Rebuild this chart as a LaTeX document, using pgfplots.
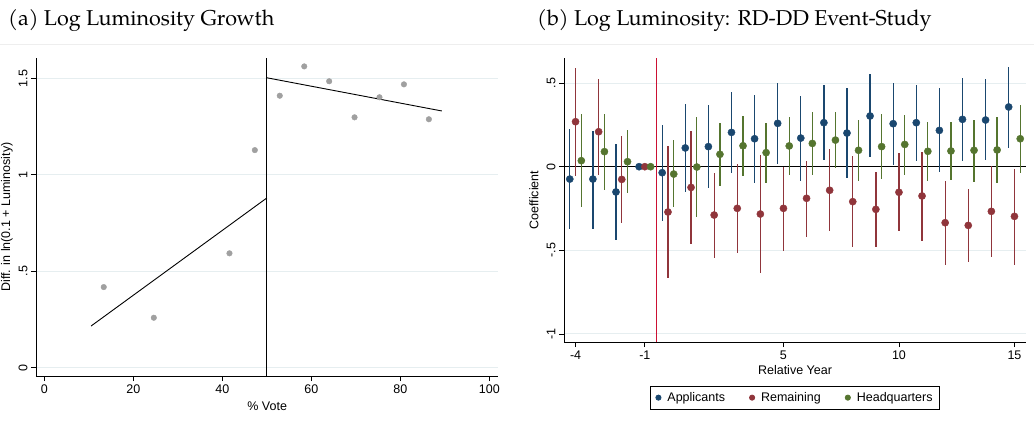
\documentclass[border=0pt]{standalone}
\usepackage{fontspec}
\setmainfont{Liberation Sans}
\newfontfamily\titlefont{TeX Gyre Pagella}
\usepackage{pgfplots}
\usepackage{pgfplotstable}
\pgfplotsset{compat=1.18}
\definecolor{appc}{HTML}{1A476F}
\definecolor{remc}{HTML}{90353B}
\definecolor{hqc}{HTML}{55752F}
\definecolor{ptgray}{HTML}{A0A0A0}
\definecolor{gridc}{HTML}{E6EEF0}
\definecolor{redline}{HTML}{CC1133}
\definecolor{topline}{HTML}{EEEEEE}

% yr, point estimate, lower and upper bound
\pgfplotstableread{
yr b lo hi
-4 -0.074 -0.372 0.223
-3 -0.074 -0.372 0.215
-2 -0.151 -0.438 0.137
-1 0 0 0
0 -0.036 -0.325 0.249
1 0.112 -0.149 0.375
2 0.120 -0.129 0.369
3 0.205 -0.036 0.448
4 0.167 -0.096 0.428
5 0.259 0.018 0.498
6 0.171 -0.084 0.424
7 0.263 0.040 0.488
8 0.201 -0.066 0.468
9 0.303 0.056 0.552
10 0.257 0.012 0.500
11 0.263 0.036 0.488
12 0.217 -0.034 0.468
13 0.283 0.032 0.530
14 0.279 0.038 0.522
15 0.357 0.114 0.598
}\apptab
\pgfplotstableread{
yr b lo hi
-4 0.269 -0.056 0.588
-3 0.209 -0.050 0.522
-2 -0.076 -0.335 0.181
-1 0 0 0
0 -0.271 -0.667 0.124
1 -0.124 -0.460 0.215
2 -0.289 -0.544 -0.036
3 -0.249 -0.518 0.018
4 -0.283 -0.637 0.070
5 -0.249 -0.502 0.000
6 -0.189 -0.418 0.036
7 -0.141 -0.384 0.106
8 -0.209 -0.482 0.066
9 -0.255 -0.482 -0.032
10 -0.153 -0.386 0.080
11 -0.175 -0.442 0.090
12 -0.335 -0.586 -0.086
13 -0.351 -0.572 -0.131
14 -0.267 -0.540 0.004
15 -0.297 -0.586 -0.012
}\remtab
\pgfplotstableread{
yr b lo hi
-4 0.036 -0.243 0.313
-3 0.090 -0.139 0.315
-2 0.030 -0.157 0.219
-1 0 0 0
0 -0.044 -0.243 0.159
1 -0.002 -0.300 0.299
2 0.074 -0.114 0.259
3 0.125 -0.054 0.305
4 0.084 -0.096 0.263
5 0.124 -0.052 0.299
6 0.139 -0.048 0.327
7 0.159 -0.008 0.327
8 0.098 -0.084 0.279
9 0.120 -0.074 0.313
10 0.133 -0.048 0.311
11 0.092 -0.084 0.267
12 0.094 -0.082 0.267
13 0.098 -0.090 0.279
14 0.100 -0.098 0.297
15 0.167 -0.036 0.367
}\hqtab

\newcommand\lblfont{\fontsize{12.5bp}{15bp}\selectfont}

\pgfplotsset{
  statastyle/.style={
    scale only axis,
    anchor=south west,
    axis x line*=bottom,
    axis y line*=left,
    axis line style={-, line width=0.9bp, black},
    tick align=outside,
    major tick length=5bp,
    tick style={black, line width=0.8bp},
    ymajorgrids,
    grid style={gridc, line width=1bp},
    /pgf/number format/assume math mode=true,
    ticklabel style={font=\lblfont},
    label style={font=\lblfont},
    yticklabel style={rotate=90, anchor=south},
    clip=false,
  },
  ci/.style={only marks, mark=*, mark size=3.6bp, color=#1,
    mark options={draw=none, fill=#1},
    error bars/.cd, y dir=both, y explicit, error mark=none,
    error bar style={line width=1.3bp, #1}},
}

\begin{document}
\begin{tikzpicture}
\useasboundingbox (0,0) rectangle (1034bp,424bp);
\draw[topline, line width=0.8bp] (0,380bp) -- (1034bp,380bp);
\node[anchor=base west, font=\titlefont\fontsize{21.5bp}{24bp}\selectfont, inner sep=0] at (8bp,398bp) {(a) Log Luminosity Growth};
\node[anchor=base west, font=\titlefont\fontsize{21.5bp}{24bp}\selectfont, inner sep=0] at (537bp,398bp) {(b) Log Luminosity: RD-DD Event-Study};

\begin{axis}[statastyle,
  at={(36bp,48bp)}, width=462.3bp, height=317.7bp,
  xmin=-1.87, xmax=102, ymin=-0.043, ymax=1.604,
  xtick={0,20,40,60,80,100},
  ytick={0,0.5,1,1.5}, yticklabels={0,.5,1,1.5},
  xlabel={\% Vote},
  ylabel={Diff. in ln(0.1 + Luminosity)},
  xlabel style={at={(axis description cs:0.5,-0.0944)}, anchor=center},
  ylabel style={at={(axis description cs:-0.0627,0.5)}, anchor=center},
]
\addplot[only marks, mark=*, mark size=2.8bp, color=ptgray, mark options={draw=none, fill=ptgray}] coordinates {
(13.35,0.418) (24.6,0.259) (41.6,0.593) (47.3,1.128) (52.9,1.41) (58.4,1.562)
(64.0,1.485) (69.7,1.298) (75.3,1.402) (80.8,1.469) (86.4,1.288)};
\addplot[black, line width=0.9bp] coordinates {(10.5,0.216) (50,0.88)};
\addplot[black, line width=0.9bp] coordinates {(50,1.503) (89.3,1.331)};
\addplot[black, line width=1bp] coordinates {(50,-0.043) (50,1.604)};
\end{axis}

\begin{axis}[statastyle,
  at={(564bp,82bp)}, width=462bp, height=283.7bp,
  xmin=-4.5, xmax=15.5, ymin=-1.048, ymax=0.648,
  xtick={-4,-1,5,10,15}, xticklabels={-4,-1,5,10,15},
  ytick={-1,-0.5,0,0.5}, yticklabels={-1,-.5,0,.5},
  xlabel={Relative Year},
  ylabel={Coefficient},
  xlabel style={at={(axis description cs:0.5,-0.0987)}, anchor=center},
  ylabel style={at={(axis description cs:-0.0649,0.5)}, anchor=center},
  legend columns=3,
  legend style={at={(0.5,-0.155)}, anchor=north, draw=black, line width=0.8bp,
    font=\lblfont, inner xsep=5bp, inner ysep=4bp,
    /tikz/every odd column/.append style={column sep=4bp},
    /tikz/every even column/.append style={column sep=22bp}},
  legend image code/.code={\fill (0bp,0bp) circle (2.6bp);},
]
\addplot[black, line width=1bp, forget plot] coordinates {(-4.5,0) (15.5,0)};
\addplot[redline, line width=1.2bp, forget plot] coordinates {(-0.5,-1.048) (-0.5,0.648)};
\addplot[ci=appc] table[x expr=\thisrow{yr}-0.25, y=b,
  y error plus expr=\thisrow{hi}-\thisrow{b}, y error minus expr=\thisrow{b}-\thisrow{lo}] {\apptab};
\addlegendentry{Applicants}
\addplot[ci=remc] table[x=yr, y=b,
  y error plus expr=\thisrow{hi}-\thisrow{b}, y error minus expr=\thisrow{b}-\thisrow{lo}] {\remtab};
\addlegendentry{Remaining}
\addplot[ci=hqc] table[x expr=\thisrow{yr}+0.25, y=b,
  y error plus expr=\thisrow{hi}-\thisrow{b}, y error minus expr=\thisrow{b}-\thisrow{lo}] {\hqtab};
\addlegendentry{Headquarters}
\end{axis}
\end{tikzpicture}
\end{document}
